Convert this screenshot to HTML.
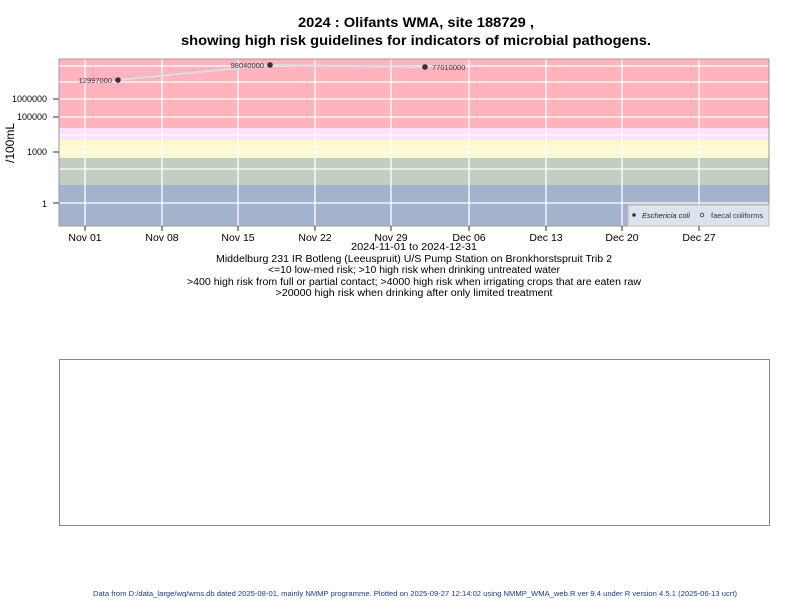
<!DOCTYPE html>
<html><head><meta charset="utf-8"><style>
html,body{margin:0;padding:0;background:#fff;width:800px;height:600px;overflow:hidden}
svg{display:block;font-family:"Liberation Sans",Arial,sans-serif}
</style></head><body>
<svg width="800" height="600" viewBox="0 0 800 600">
<text x="416" y="27" font-size="14" font-weight="bold" text-anchor="middle" textLength="236" lengthAdjust="spacingAndGlyphs">2024 : Olifants WMA, site 188729 ,</text>
<text x="416" y="45" font-size="14" font-weight="bold" text-anchor="middle" textLength="470" lengthAdjust="spacingAndGlyphs">showing high risk guidelines for indicators of microbial pathogens.</text>
<rect x="59" y="59" width="710" height="69" fill="#ffb3be"/>
<rect x="59" y="128" width="710" height="12" fill="#fde0fb"/>
<rect x="59" y="140" width="710" height="18" fill="#fdf8cd"/>
<rect x="59" y="158" width="710" height="27" fill="#c3cdc0"/>
<rect x="59" y="185" width="710" height="41" fill="#a2b3cb"/>
<g stroke="#fff" stroke-width="1.3">
<line x1="59" x2="769" y1="66" y2="66"/><line x1="59" x2="769" y1="82" y2="82"/>
<line x1="59" x2="769" y1="99" y2="99"/><line x1="59" x2="769" y1="117" y2="117"/>
<line x1="59" x2="769" y1="135" y2="135"/><line x1="59" x2="769" y1="152" y2="152"/>
<line x1="59" x2="769" y1="169" y2="169"/><line x1="59" x2="769" y1="203" y2="203"/>
<line x1="85" x2="85" y1="59" y2="226"/><line x1="162" x2="162" y1="59" y2="226"/>
<line x1="238" x2="238" y1="59" y2="226"/><line x1="315" x2="315" y1="59" y2="226"/>
<line x1="391" x2="391" y1="59" y2="226"/><line x1="469" x2="469" y1="59" y2="226"/>
<line x1="546" x2="546" y1="59" y2="226"/><line x1="622" x2="622" y1="59" y2="226"/>
<line x1="699" x2="699" y1="59" y2="226"/>
</g>
<rect x="59" y="59" width="710" height="167" fill="none" stroke="#999" stroke-width="1"/>
<polyline points="118,80 270,65 425,67" fill="none" stroke="#ddd" stroke-width="2"/>
<g fill="#333"><circle cx="118" cy="80" r="2.8"/><circle cx="270" cy="65" r="2.8"/><circle cx="425" cy="67" r="2.8"/></g>
<g font-size="7.5" fill="#333">
<text x="112" y="83" text-anchor="end">12997000</text>
<text x="264" y="68" text-anchor="end">98040000</text>
<text x="432" y="70">77010000</text>
</g>
<rect x="628" y="205" width="141" height="21" fill="#dde3ec" stroke="#bbb"/>
<circle cx="634" cy="215" r="1.8" fill="#333"/>
<text x="642" y="218" font-size="7.5" font-style="italic" fill="#222">Eschericia coli</text>
<circle cx="702" cy="215" r="1.8" fill="none" stroke="#333" stroke-width="0.8"/>
<text x="711" y="218" font-size="7.5" fill="#334">faecal coliforms</text>
<g stroke="#333" stroke-width="1">
<line x1="53" x2="59" y1="99" y2="99"/><line x1="53" x2="59" y1="117" y2="117"/>
<line x1="53" x2="59" y1="152" y2="152"/><line x1="53" x2="59" y1="203" y2="203"/>
</g>
<g font-size="9" text-anchor="end" fill="#000">
<text x="47" y="102">1000000</text><text x="47" y="120">100000</text>
<text x="47" y="155">1000</text><text x="47" y="207">1</text>
</g>
<text transform="translate(14,143) rotate(-90)" font-size="12" text-anchor="middle">/100mL</text>
<g stroke="#333" stroke-width="1">
<line x1="85" x2="85" y1="226" y2="231"/><line x1="162" x2="162" y1="226" y2="231"/>
<line x1="238" x2="238" y1="226" y2="231"/><line x1="315" x2="315" y1="226" y2="231"/>
<line x1="391" x2="391" y1="226" y2="231"/><line x1="469" x2="469" y1="226" y2="231"/>
<line x1="546" x2="546" y1="226" y2="231"/><line x1="622" x2="622" y1="226" y2="231"/>
<line x1="699" x2="699" y1="226" y2="231"/>
</g>
<g font-size="10.5" text-anchor="middle">
<text x="85" y="241">Nov 01</text><text x="162" y="241">Nov 08</text>
<text x="238" y="241">Nov 15</text><text x="315" y="241">Nov 22</text>
<text x="391" y="241">Nov 29</text><text x="469" y="241">Dec 06</text>
<text x="546" y="241">Dec 13</text><text x="622" y="241">Dec 20</text>
<text x="699" y="241">Dec 27</text>
</g>
<g font-size="10" text-anchor="middle">
<text x="414" y="250" textLength="126" lengthAdjust="spacingAndGlyphs">2024-11-01 to 2024-12-31</text>
<text x="414" y="262" textLength="396" lengthAdjust="spacingAndGlyphs">Middelburg 231 IR Botleng (Leeuspruit) U/S Pump Station on Bronkhorstspruit Trib 2</text>
<text x="414" y="273" textLength="292" lengthAdjust="spacingAndGlyphs">&lt;=10 low-med risk; &gt;10 high risk when drinking untreated water</text>
<text x="414" y="285" textLength="454" lengthAdjust="spacingAndGlyphs">&gt;400 high risk from full or partial contact; &gt;4000 high risk when irrigating crops that are eaten raw</text>
<text x="414" y="296" textLength="277" lengthAdjust="spacingAndGlyphs">&gt;20000 high risk when drinking after only limited treatment</text>
</g>
<rect x="59.5" y="359.5" width="710" height="166" fill="none" stroke="#888"/>
<text x="415" y="596" font-size="7.5" fill="#1a3a8a" text-anchor="middle" textLength="644" lengthAdjust="spacingAndGlyphs">Data from D:/data_large/wq/wms.db dated 2025-08-01, mainly NMMP programme. Plotted on 2025-09-27 12:14:02 using NMMP_WMA_web.R ver 9.4 under R version 4.5.1 (2025-06-13 ucrt)</text>
</svg>
</body></html>
